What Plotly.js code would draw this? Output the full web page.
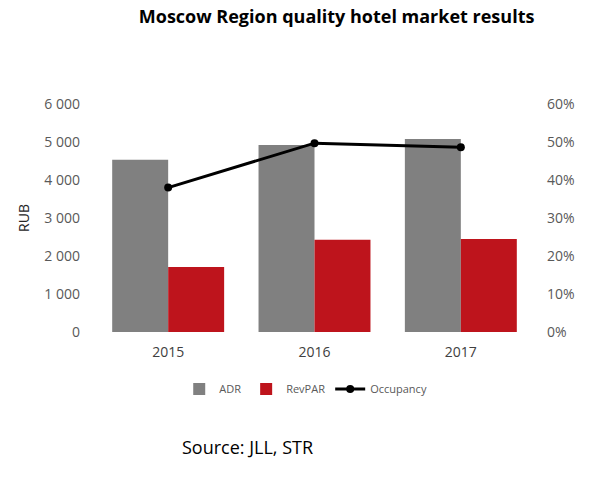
<!DOCTYPE html>
<html><head><meta charset="utf-8">
<script src="https://cdn.plot.ly/plotly-3.0.1.min.js"></script>
<style>html,body{margin:0;padding:0;background:#fff}#chart{width:600px;height:496px}</style>
</head><body><div id="chart"></div>
<script>
const years = ['2015', '2016', '2017'];
const adr = [4530, 4920, 5080];
const revpar = [1710, 2430, 2450];
const occupancy = [0.38, 0.497, 0.486];

const font = 'Open Sans, Lato, sans-serif';
const tickColor = '#595959';

const data = [
  {type: 'bar', name: 'ADR', x: years, y: adr, marker: {color: '#808080'}},
  {type: 'bar', name: 'RevPAR', x: years, y: revpar, marker: {color: '#BE141C'}},
  {type: 'scatter', mode: 'lines+markers', name: 'Occupancy', x: years, y: occupancy, yaxis: 'y2',
   line: {color: '#000000', width: 3}, marker: {color: '#000000', size: 8}}
];

const layout = {
  width: 600, height: 496,
  margin: {l: 95, r: 66, t: 104, b: 164},
  paper_bgcolor: '#fff', plot_bgcolor: '#fff',
  separators: ', ',
  font: {family: font, color: tickColor, size: 14},
  barmode: 'group', bargap: 0.235, bargroupgap: 0,
  title: {text: '<b>Moscow Region quality hotel market results</b>', font: {family: font, size: 18, color: '#000'},
          xref: 'container', yref: 'container', x: 0.561, xanchor: 'center', y: 0.967, yanchor: 'middle'},
  xaxis: {type: 'category', showgrid: false, zeroline: false, showline: false, ticks: '',
          tickfont: {size: 14, color: '#404040'}, ticklabelstandoff: 10},
  yaxis: {range: [0, 6000], dtick: 1000, tickformat: ',d', showgrid: false, zeroline: false, showline: false,
          ticks: '', tickfont: {size: 14, color: tickColor}, ticklabelstandoff: 14,
          title: {text: 'RUB', font: {size: 14, color: '#262626'}, standoff: 11}},
  yaxis2: {overlaying: 'y', side: 'right', range: [0, 0.6], dtick: 0.1, tickformat: '.0%', showgrid: false,
           zeroline: false, showline: false, ticks: '', tickfont: {size: 14, color: tickColor}, ticklabelstandoff: 12},
  showlegend: true,
  legend: {orientation: 'h', x: 0.48, xanchor: 'center', y: -0.25, yanchor: 'middle',
           font: {size: 11, color: tickColor}, traceorder: 'normal', itemwidth: 30},
  annotations: [{text: 'Source: JLL, STR', xref: 'paper', yref: 'paper', x: (247 - 95) / 439, y: -0.504,
                 xanchor: 'center', yanchor: 'middle', showarrow: false, font: {family: font, size: 18, color: '#000'}}]
};

Plotly.newPlot('chart', data, layout, {displayModeBar: false, staticPlot: true});
</script></body></html>
